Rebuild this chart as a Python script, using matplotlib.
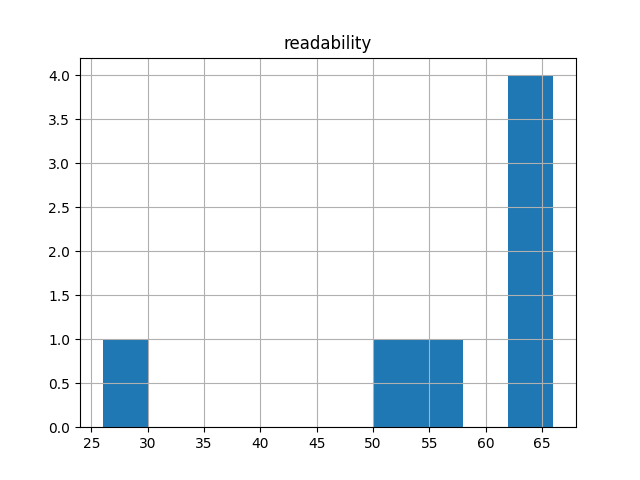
import pandas as pd
import matplotlib
matplotlib.use("Agg")
import matplotlib.pyplot as plt

readability = [26.0, 52.0, 56.0, 63.0, 64.0, 65.0, 66.0]

df = pd.DataFrame({"readability": readability})
fig, ax = plt.subplots(figsize=(6.4, 4.8), dpi=100)
df.hist(column="readability", bins=10, ax=ax)
fig.savefig("out.png")
